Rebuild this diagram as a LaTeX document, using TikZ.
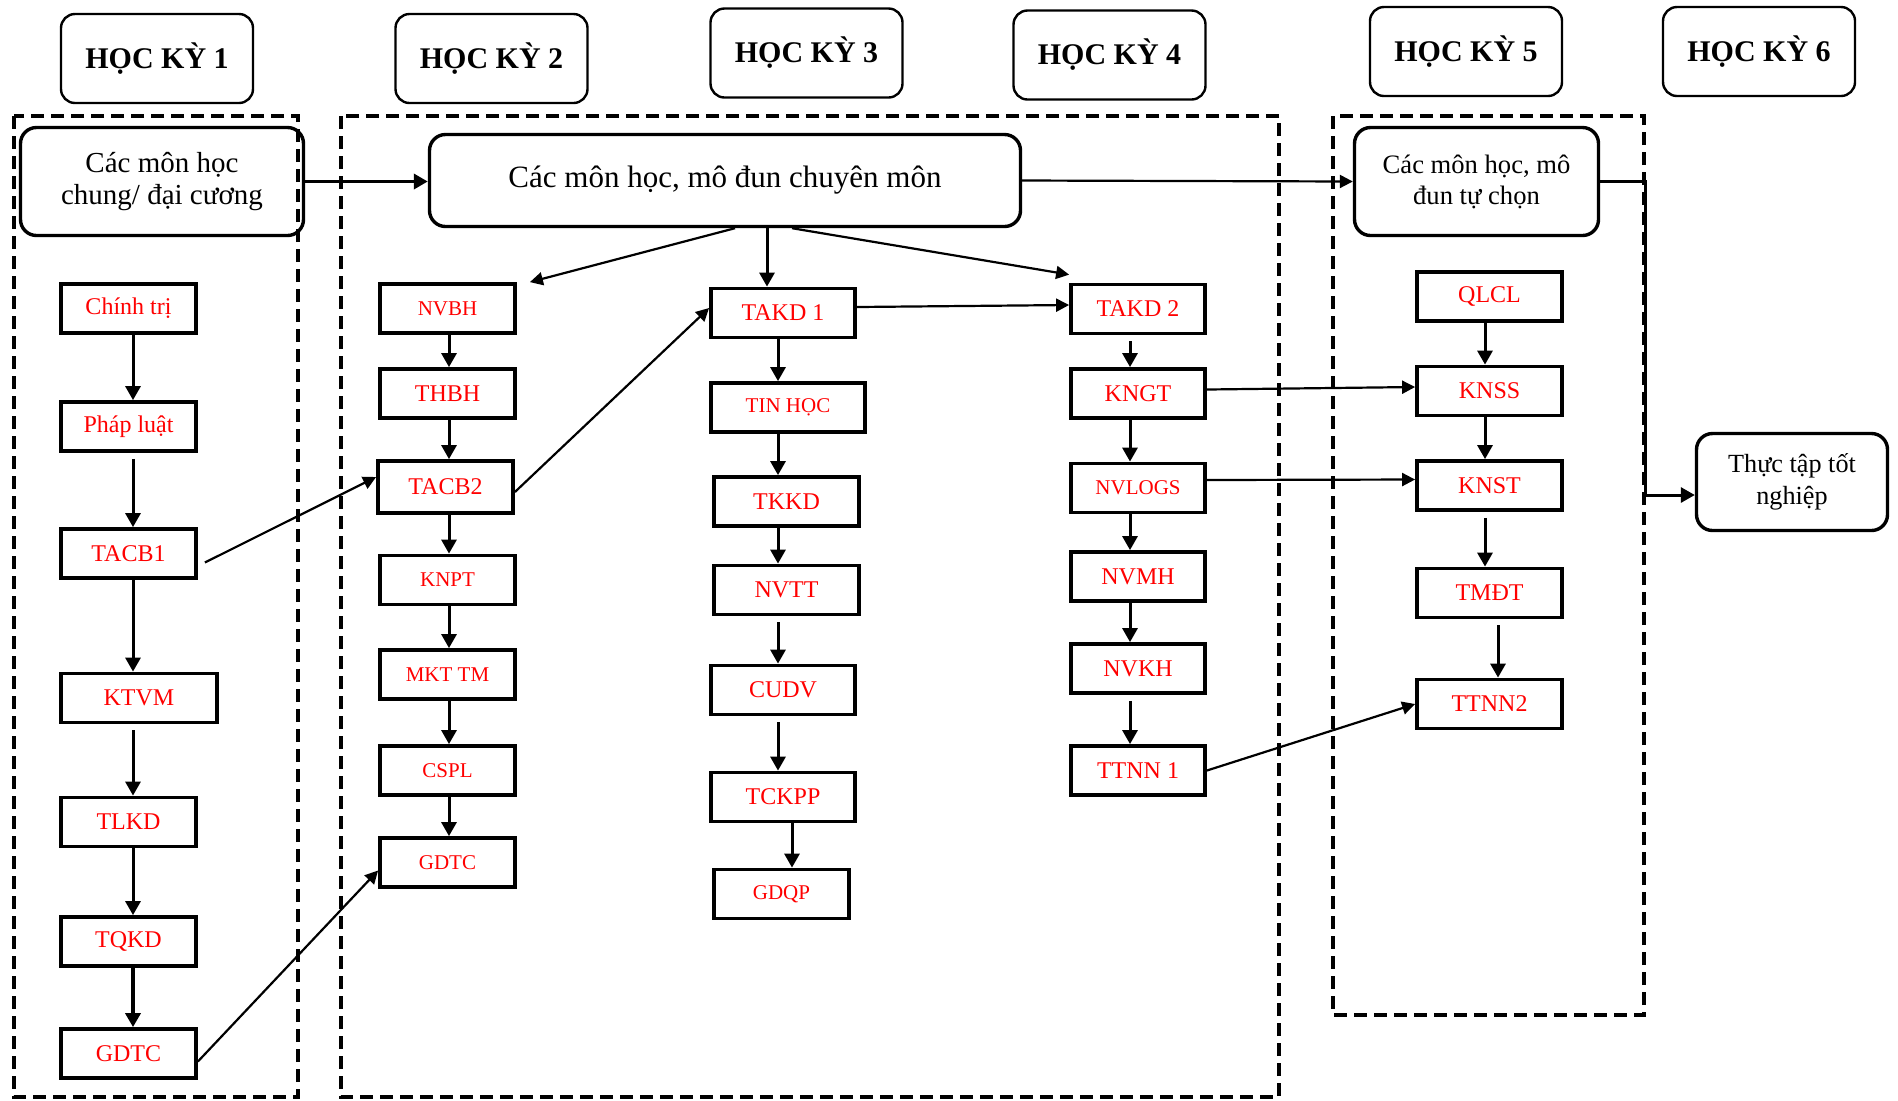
\documentclass[tikz,border=0pt]{standalone}
\usepackage{fontspec}
\setmainfont{Liberation Serif}
\usetikzlibrary{positioning,arrows.meta,calc}
\definecolor{subjred}{HTML}{FF0000}

\begin{document}
\begin{tikzpicture}[x=0.5pt, y=-0.5pt,
    hk/.style={draw, line width=1.2pt, rounded corners=7pt,
               minimum width=96pt, minimum height=44.5pt,
               font=\fontsize{15}{18}\selectfont\bfseries},
    grp/.style={draw, line width=1.7pt, rounded corners=8pt, align=center},
    subj/.style={draw, line width=1.9pt, text=subjred,
                 minimum width=67.5pt, minimum height=24.5pt,
                 font=\fontsize{12}{14}\selectfont},
    subjs/.style={subj, font=\fontsize{10.5}{12}\selectfont},
    semframe/.style={line width=1.9pt, dash pattern=on 6.5pt off 3.5pt},
    arr/.style={-{Triangle[length=7pt,width=7.5pt]}, line width=1.5pt},
    arrg/.style={arr, shorten <=3pt},
    link/.style={-{Triangle[length=6.5pt,width=6.5pt]}, line width=1.1pt}]
  \useasboundingbox (0,0) rectangle (1898,1100);
  % Semester frames
  \draw[semframe] (14,116) rectangle (298,1097);
  \draw[semframe] (341,116) rectangle (1279,1097);
  \draw[semframe] (1333,116) rectangle (1644,1015);
  % Semester headers
  \node[hk] (hk1) at (157,58.5) {HỌC KỲ 1};
  \node[hk] (hk2) at (491.5,58.5) {HỌC KỲ 2};
  \node[hk] (hk3) at (806.5,53) {HỌC KỲ 3};
  \node[hk] (hk4) at (1109.5,55) {HỌC KỲ 4};
  \node[hk] (hk5) at (1466,51.5) {HỌC KỲ 5};
  \node[hk] (hk6) at (1759,51.5) {HỌC KỲ 6};
  % Subject groups
  \node[grp, minimum width=141.5pt, minimum height=54pt,
        font=\fontsize{14.5}{16}\selectfont] (chung) at (162,181.5) {Các môn học\\chung/ đại cương};
  \node[grp, minimum width=295.5pt, minimum height=46pt,
        font=\fontsize{15.5}{18}\selectfont] (chuyenmon) at (725,180.5) {Các môn học, mô đun chuyên môn};
  \node[grp, minimum width=122pt, minimum height=54pt,
        font=\fontsize{13.3}{15.5}\selectfont] (tuchon) at (1476.5,181.5) {Các môn học, mô\\đun tự chọn};
  \node[grp, minimum width=95.5pt, minimum height=48.5pt,
        font=\fontsize{13.1}{16}\selectfont] (thuctap) at (1792,482) {Thực tập tốt\\nghiệp};
  % Semester 1
  \node[subj] (chinhtri) at (128.5,308.5) {Chính trị};
  \node[subj] (phapluat) at (128.5,426.5) {Pháp luật};
  \node[subj] (tacb1) at (128.5,553.5) {TACB1};
  \node[subj, minimum width=78pt] (ktvm) at (139,698) {KTVM};
  \node[subj] (tlkd) at (128.5,822) {TLKD};
  \node[subj] (tqkd) at (128.5,941.5) {TQKD};
  \node[subj] (gdtc1) at (128.5,1053.5) {GDTC};
  % Semester 2
  \node[subjs] (nvbh) at (447.5,308.5) {NVBH};
  \node[subj] (thbh) at (447.5,393.5) {THBH};
  \node[subj, minimum height=26pt] (tacb2) at (445.5,487) {TACB2};
  \node[subjs] (knpt) at (447.5,580) {KNPT};
  \node[subjs] (mkttm) at (447.5,674.5) {MKT TM};
  \node[subjs] (cspl) at (447.5,770.5) {CSPL};
  \node[subjs] (gdtc2) at (447.5,862.5) {GDTC};
  % Semester 3
  \node[subj, minimum width=72pt] (takd1) at (783,313) {TAKD 1};
  \node[subjs, minimum width=77pt] (tinhoc) at (788,407.5) {TIN HỌC};
  \node[subj, minimum width=72.5pt] (tkkd) at (786.5,501.5) {TKKD};
  \node[subj, minimum width=72.5pt] (nvtt) at (786.5,590) {NVTT};
  \node[subj, minimum width=72pt] (cudv) at (783,690) {CUDV};
  \node[subj, minimum width=72pt] (tckpp) at (783,797) {TCKPP};
  \node[subjs] (gdqp) at (781.5,894) {GDQP};
  % Semester 4
  \node[subj, minimum width=67pt] (takd2) at (1138,309) {TAKD 2};
  \node[subj, minimum width=67pt] (kngt) at (1138,393.5) {KNGT};
  \node[subjs, minimum width=67pt] (nvlogs) at (1138,488) {NVLOGS};
  \node[subj, minimum width=67pt] (nvmh) at (1138,576.5) {NVMH};
  \node[subj, minimum width=67pt] (nvkh) at (1138,668.5) {NVKH};
  \node[subj, minimum width=67pt] (ttnn1) at (1138,770.5) {TTNN 1};
  % Semester 5
  \node[subj, minimum width=72.5pt] (qlcl) at (1489.5,296.5) {QLCL};
  \node[subj, minimum width=72.5pt] (knss) at (1489.5,391) {KNSS};
  \node[subj, minimum width=72.5pt] (knst) at (1489.5,485.5) {KNST};
  \node[subj, minimum width=72.5pt] (tmdt) at (1489.5,593) {TMĐT};
  \node[subj, minimum width=72.5pt] (ttnn2) at (1489.5,704) {TTNN2};
  % Column lines
  \coordinate (c1) at (133,0);
  \coordinate (c2) at (449,0);
  \coordinate (c3) at (778,0);
  \coordinate (c3b) at (792,0);
  \coordinate (c4) at (1130,0);
  \coordinate (c5) at (1485,0);
  \coordinate (c5b) at (1498,0);
  \coordinate (m3) at (767,0);
  \coordinate (bend) at (1645,495);
  % Group links
  \draw[arr, line width=1.8pt] (chung.east) -- (chung.east -| chuyenmon.west);
  \draw[link] (chuyenmon.east) -- (tuchon.west);
  \draw[arr] (tuchon.east) -| (bend) -- (bend -| thuctap.west);
  \draw[link] ([xshift=5pt]chuyenmon.south) -- ([xshift=6.5pt]nvbh.north east);
  \draw[arr] (m3 |- chuyenmon.south) -- (m3 |- takd1.north);
  \draw[link] ([xshift=33.5pt]chuyenmon.south) -- ([yshift=4pt]takd2.north west);
  % Semester 1 arrows
  \draw[arr] (chinhtri.south -| c1) -- (phapluat.north -| c1);
  \draw[arrg] (phapluat.south -| c1) -- (tacb1.north -| c1);
  \draw[arr] (tacb1.south -| c1) -- (ktvm.north -| c1);
  \draw[arrg] (ktvm.south -| c1) -- (tlkd.north -| c1);
  \draw[arr] (tlkd.south -| c1) -- (tqkd.north -| c1);
  \draw[arr, line width=1.9pt] (tqkd.south -| c1) -- (gdtc1.north -| c1);
  % Semester 2 arrows
  \draw[arr] (nvbh.south -| c2) -- (thbh.north -| c2);
  \draw[arr] (thbh.south -| c2) -- (tacb2.north -| c2);
  \draw[arr] (tacb2.south -| c2) -- (knpt.north -| c2);
  \draw[arr] (knpt.south -| c2) -- (mkttm.north -| c2);
  \draw[arr] (mkttm.south -| c2) -- (cspl.north -| c2);
  \draw[arr] (cspl.south -| c2) -- (gdtc2.north -| c2);
  % Semester 3 arrows
  \draw[arr] (takd1.south -| c3) -- (tinhoc.north -| c3);
  \draw[arr] (tinhoc.south -| c3) -- (tkkd.north -| c3);
  \draw[arr] (tkkd.south -| c3) -- (nvtt.north -| c3);
  \draw[arrg] (nvtt.south -| c3) -- (cudv.north -| c3);
  \draw[arrg] (cudv.south -| c3) -- (tckpp.north -| c3);
  \draw[arr] (tckpp.south -| c3b) -- (gdqp.north -| c3b);
  % Semester 4 arrows
  \draw[arrg] (takd2.south -| c4) -- (kngt.north -| c4);
  \draw[arr] (kngt.south -| c4) -- (nvlogs.north -| c4);
  \draw[arr] (nvlogs.south -| c4) -- (nvmh.north -| c4);
  \draw[arr] (nvmh.south -| c4) -- (nvkh.north -| c4);
  \draw[arrg] (nvkh.south -| c4) -- (ttnn1.north -| c4);
  % Semester 5 arrows
  \draw[arr] (qlcl.south -| c5) -- (knss.north -| c5);
  \draw[arr] (knss.south -| c5) -- (knst.north -| c5);
  \draw[arrg] (knst.south -| c5) -- (tmdt.north -| c5);
  \draw[arrg] (tmdt.south -| c5b) -- (ttnn2.north -| c5b);
  % Cross links
  \draw[link] ([xshift=3.5pt,yshift=-4.5pt]tacb1.east) -- ([yshift=5pt]tacb2.west);
  \draw[link] ([yshift=-2.5pt]tacb2.east) -- ([yshift=2.5pt]takd1.west);
  \draw[link] ([yshift=-4pt]gdtc1.east) -- ([yshift=-4pt]gdtc2.west);
  \draw[link] ([yshift=3pt]takd1.east) -- ([yshift=2pt]takd2.west);
  \draw[link] ([yshift=2pt]kngt.east) -- ([yshift=2pt]knss.west);
  \draw[link] ([yshift=4pt]nvlogs.east) -- ([yshift=3pt]knst.west);
  \draw[link] (ttnn1.east) -- (ttnn2.west);
\end{tikzpicture}
\end{document}
